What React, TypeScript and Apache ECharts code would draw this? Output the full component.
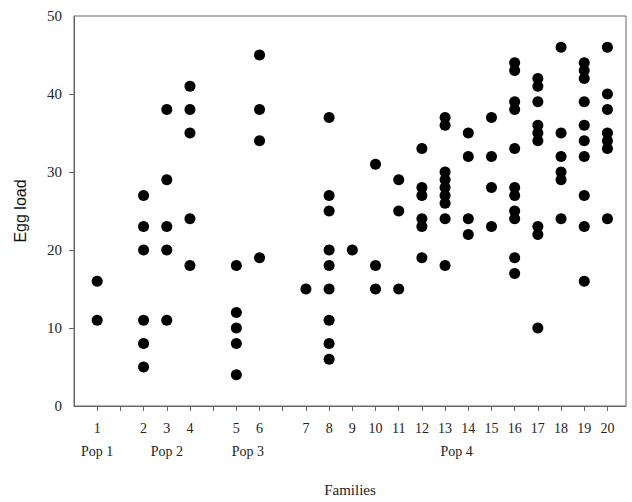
import React, { useEffect, useRef } from "react";
import * as echarts from "echarts";

// Families and their slot on the x axis (gaps separate the populations)
const families = [1, 2, 3, 4, 5, 6, 7, 8, 9, 10, 11, 12, 13, 14, 15, 16, 17, 18, 19, 20];
const familySlots = [1, 3, 4, 5, 7, 8, 10, 11, 12, 13, 14, 15, 16, 17, 18, 19, 20, 21, 22, 23];

// Population labels and the slot they are centred on
const popLabels = ["Pop 1", "Pop 2", "Pop 3", "Pop 4"];
const popSlots = [1, 4, 7.5, 16.5];

// Egg load per family
const eggLoads: number[][] = [
  [16, 11],
  [27, 23, 20, 11, 8, 5],
  [38, 29, 23, 20, 11],
  [41, 38, 35, 24, 18],
  [18, 12, 10, 8, 4],
  [45, 38, 34, 19],
  [15],
  [37, 27, 25, 20, 18, 15, 11, 8, 6],
  [20],
  [31, 18, 15],
  [29, 25, 15],
  [33, 28, 27, 24, 23, 19],
  [37, 36, 30, 29, 28, 27, 26, 24, 18],
  [35, 32, 24, 22],
  [37, 32, 28, 23],
  [44, 43, 39, 38, 33, 28, 27, 25, 24, 19, 17],
  [42, 41, 39, 36, 35, 34, 23, 22, 10],
  [46, 35, 32, 30, 29, 24],
  [44, 43, 42, 39, 36, 34, 32, 27, 23, 16],
  [46, 40, 38, 35, 34, 33, 24],
];

const yTicks = [0, 10, 20, 30, 40, 50];

export default function App() {
  const ref = useRef<HTMLDivElement>(null);

  useEffect(() => {
    if (!ref.current) return;
    const chart = echarts.init(ref.current, undefined, { renderer: "svg" });

    const points: number[][] = [];
    eggLoads.forEach((vals, i) => {
      vals.forEach((v) => points.push([familySlots[i], v]));
    });

    const slotToFamily: Record<string, string> = {};
    familySlots.forEach((s, i) => (slotToFamily[String(s)] = String(families[i])));
    const slotToPop: Record<string, string> = {};
    popSlots.forEach((s, i) => (slotToPop[String(s)] = popLabels[i]));

    const axisColor = "#666";
    const serif = "Liberation Serif";

    chart.setOption({
      animation: false,
      backgroundColor: "#fff",
      grid: {
        left: 74,
        top: 16,
        right: 6,
        bottom: 95,
        show: true,
        borderColor: axisColor,
        borderWidth: 1,
      },
      xAxis: [
        {
          type: "value",
          min: 0,
          max: 23.8,
          interval: 1,
          position: "bottom",
          name: "Families",
          nameLocation: "middle",
          nameGap: 76,
          nameTextStyle: { fontFamily: serif, fontSize: 15, color: "#222" },
          splitLine: { show: false },
          axisLine: { show: true, lineStyle: { color: axisColor, width: 1 } },
          axisTick: {
            show: true,
            length: 5,
            inside: false,
            lineStyle: { color: axisColor },
            customValues: familySlots.concat([2, 6, 9]),
          },
          axisLabel: {
            customValues: familySlots,
            formatter: (v: number) => slotToFamily[String(v)] ?? "",
            margin: 15,
            fontFamily: serif,
            fontSize: 14,
            color: "#222",
          },
        },
        {
          type: "value",
          min: 0,
          max: 23.8,
          position: "bottom",
          splitLine: { show: false },
          axisLine: { show: false },
          axisTick: { show: false },
          axisLabel: {
            customValues: popSlots,
            formatter: (v: number) => slotToPop[String(v)] ?? "",
            margin: 38,
            fontFamily: serif,
            fontSize: 14,
            color: "#222",
          },
        },
      ],
      yAxis: {
        type: "value",
        min: 0,
        max: 50,
        interval: 10,
        name: "Egg load",
        nameLocation: "middle",
        nameRotate: 90,
        nameGap: 46,
        nameTextStyle: { fontFamily: "Liberation Sans", fontSize: 16, color: "#111" },
        splitLine: { show: false },
        axisLine: { show: true, lineStyle: { color: axisColor, width: 1 } },
        axisTick: {
          show: true,
          length: 5,
          inside: false,
          lineStyle: { color: axisColor },
          customValues: yTicks.slice(1, -1),
        },
        axisLabel: {
          customValues: yTicks,
          margin: 12,
          fontFamily: serif,
          fontSize: 15,
          color: "#222",
        },
      },
      series: [
        {
          type: "scatter",
          xAxisIndex: 0,
          data: points,
          symbol: "circle",
          symbolSize: 11,
          itemStyle: { color: "#000", opacity: 1 },
        },
      ],
    });

    return () => chart.dispose();
  }, []);

  return (
    <div
      ref={ref}
      style={{ position: "fixed", left: 0, top: 0, width: 632, height: 502 }}
    />
  );
}
